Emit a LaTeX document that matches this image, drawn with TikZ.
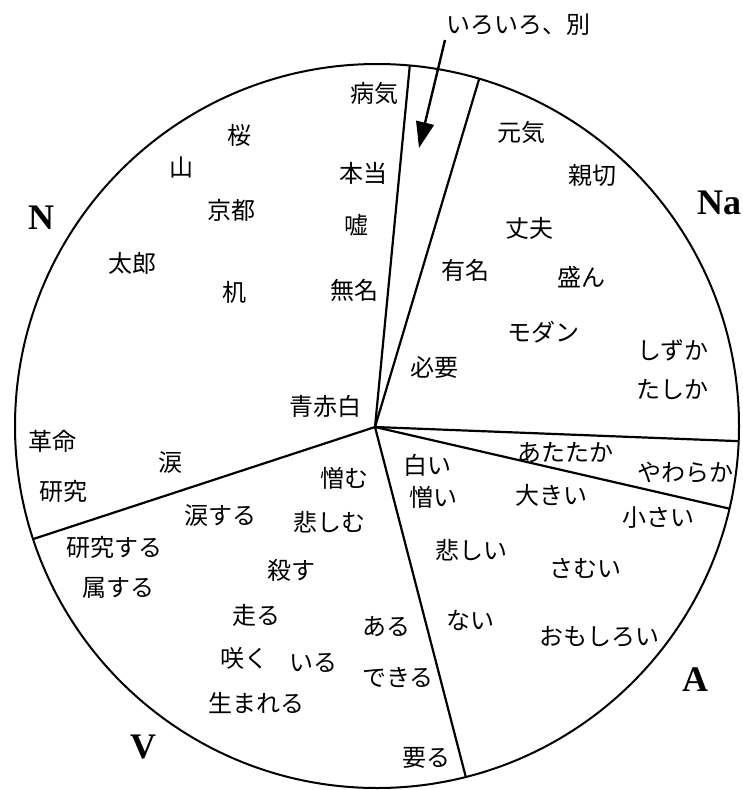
\documentclass[tikz,border=0pt]{standalone}
\usepackage{fontspec}
\setmainfont{Liberation Serif}
\newfontfamily\jp{Noto Sans CJK JP}
\usetikzlibrary{arrows.meta,calc}
\begin{document}
\begin{tikzpicture}[x=1pt,y=-1pt,
  word/.style={font=\jp\fontsize{24}{28}\selectfont, inner sep=0pt},
  cat/.style={font=\bfseries\fontsize{36}{40}\selectfont, inner sep=0pt},
  divider/.style={line width=2.2pt},
  rim/.style={line width=2pt},
  pointer/.style={line width=2.4pt, -{Triangle[length=26pt,width=18pt]}}]
\useasboundingbox (0,0) rectangle (742,790);
% circle and hub
\coordinate (c) at (377,426);
\coordinate (hub) at (375,427);
\draw[rim] (c) circle (362);
\coordinate (e1) at ($(c)+(-84.8:362)$);
\coordinate (e2) at ($(c)+(-73.6:362)$);
\coordinate (e3) at ($(c)+(2.4:362)$);
\coordinate (e4) at ($(c)+(13.2:362)$);
\coordinate (e5) at ($(c)+(75.8:362)$);
\coordinate (e6) at ($(c)+(161.8:362)$);
\foreach \e in {e1,e2,e3,e4,e5,e6} \draw[divider] (hub) -- (\e);
% annotation
\node[word] (misc) at (518,25) {いろいろ、別};
\coordinate (as) at (445,40);
\coordinate (at) at (419,148);
\draw[pointer] (as) -- (at);
% category labels
\node[cat] (N) at (41,218) {N};
\node[cat] (Na) at (719,203) {Na};
\node[cat] (A) at (695,680) {A};
\node[cat] (V) at (143,747) {V};
% N sector
\node[word] (w1) at (374,93) {病気};
\node[word] (w2) at (239,135) {桜};
\node[word] (w3) at (181,167) {山};
\node[word] (w4) at (363,173) {本当};
\node[word] (w5) at (231,210) {京都};
\node[word] (w6) at (356,225) {嘘};
\node[word] (w7) at (132,263) {太郎};
\node[word] (w8) at (234,292) {机};
\node[word] (w9) at (354,290) {無名};
\node[word] (w10) at (325,406) {青赤白};
\node[word] (w11) at (52,441) {革命};
\node[word] (w12) at (170,462) {涙};
\node[word] (w13) at (63,491) {研究};
% Na sector
\node[word] (n1) at (521,132) {元気};
\node[word] (n2) at (592,175) {親切};
\node[word] (n3) at (529,228) {丈夫};
\node[word] (n4) at (465,270) {有名};
\node[word] (n5) at (581,277) {盛ん};
\node[word] (n6) at (543,332) {モダン};
\node[word] (n7) at (673,350) {しずか};
\node[word] (n8) at (434,367) {必要};
\node[word] (n9) at (672,390) {たしか};
% thin sector
\node[word] (t1) at (565,453) {あたたか};
\node[word] (t2) at (685,473) {やわらか};
% A sector
\node[word] (a1) at (427,465) {白い};
\node[word] (a2) at (433,497) {憎い};
\node[word] (a3) at (551,495) {大きい};
\node[word] (a4) at (658,518) {小さい};
\node[word] (a5) at (471,550) {悲しい};
\node[word] (a6) at (585,568) {さむい};
\node[word] (a7) at (470,620) {ない};
\node[word] (a8) at (599,637) {おもしろい};
% V sector
\node[word] (v1) at (344,478) {憎む};
\node[word] (v2) at (220,515) {涙する};
\node[word] (v3) at (329,522) {悲しむ};
\node[word] (v4) at (114,547) {研究する};
\node[word] (v5) at (291,570) {殺す};
\node[word] (v6) at (118,588) {属する};
\node[word] (v7) at (256,615) {走る};
\node[word] (v8) at (386,627) {ある};
\node[word] (v9) at (244,658) {咲く};
\node[word] (v10) at (313,663) {いる};
\node[word] (v11) at (398,677) {できる};
\node[word] (v12) at (256,703) {生まれる};
\node[word] (v13) at (426,758) {要る};
\end{tikzpicture}
\end{document}
